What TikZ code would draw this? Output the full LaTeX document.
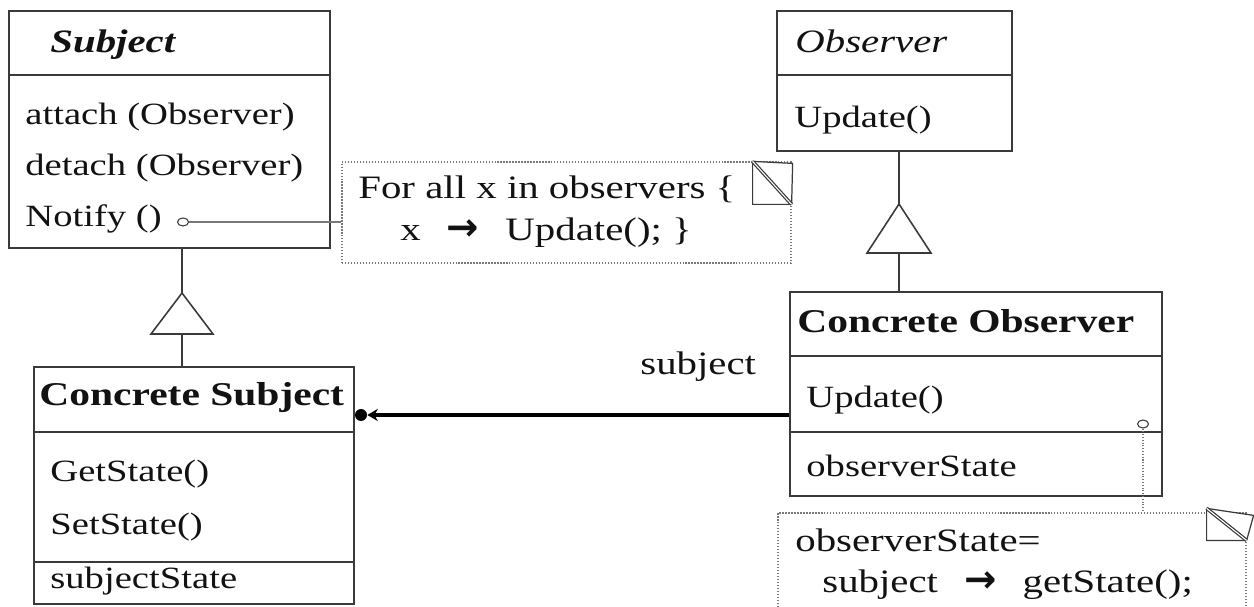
\documentclass[tikz,border=0pt]{standalone}
\usepackage{fontspec}
\setmainfont{Liberation Serif}[FakeStretch=1.25]
\newfontfamily\arrowfont{DejaVu Sans}
\usetikzlibrary{arrows.meta, fit, calc, shapes.geometric}
\definecolor{ink}{RGB}{18,18,18}
\definecolor{rule}{RGB}{58,58,58}
\definecolor{dots}{RGB}{120,120,120}
\newcommand{\pointer}{{\arrowfont\fontsize{22}{22}\selectfont\bfseries →}}

\begin{document}
\begin{tikzpicture}[x=0.02cm, y=-0.02cm,
    cell/.style={draw=rule, line width=0.9pt, inner sep=0pt},
    member/.style={font=\fontsize{17.6}{21}\selectfont, text=ink, anchor=base west, inner sep=0pt},
    memotext/.style={member, font=\fontsize{18.6}{22}\selectfont},
    title/.style={member, font=\fontsize{18.9}{22}\selectfont\bfseries},
    abstract/.style={member, font=\fontsize{18.6}{22}\selectfont\itshape},
    memo/.style={draw=dots, densely dotted, line width=0.7pt, inner sep=0pt},
    fold/.style={draw=rule, fill=white, line width=0.7pt},
    isa/.style={draw=rule, line width=0.9pt},
    assoc/.style={draw=black, line width=2.4pt, -{Stealth[length=6pt, width=7pt]}},
    pin/.style={ellipse, draw=rule, fill=white, line width=0.6pt, minimum width=0.22cm, minimum height=0.16cm, inner sep=0pt},
    knob/.style={circle, fill=black, minimum size=0.24cm, inner sep=0pt},
    link/.style={draw=dots, line width=0.6pt}
  ]
  \useasboundingbox (0,0) rectangle (1254,607);

  % abstract classes
  \node[cell, fit={(9,11) (330,75)}] (subjT) {};
  \node[cell, fit={(9,75) (330,248)}] (subjB) {};
  \node[abstract, font=\fontsize{18.6}{22}\selectfont\bfseries\itshape] (subjN) at (50,53) {Subject};
  \node[member] (attach) at (25,125) {attach (Observer)};
  \node[member] (detach) at (25,176) {detach (Observer)};
  \node[member] (notify) at (25,227) {Notify ()};

  \node[cell, fit={(777,11) (1012,75)}] (obsT) {};
  \node[cell, fit={(777,75) (1012,151)}] (obsB) {};
  \node[abstract] (obsN) at (795,53) {Observer};
  \node[member] (obsU) at (794,128) {Update()};

  % concrete classes
  \node[cell, fit={(34,367) (354,432)}] (csT) {};
  \node[cell, fit={(34,432) (354,562)}] (csM) {};
  \node[cell, fit={(34,562) (354,604)}] (csA) {};
  \node[title] (csN) at (39,406) {Concrete Subject};
  \node[member] (getst) at (50,481) {GetState()};
  \node[member] (setst) at (50,535) {SetState()};
  \node[member] (subst) at (50,588) {subjectState};

  \node[cell, fit={(790,292) (1162,356)}] (coT) {};
  \node[cell, fit={(790,356) (1162,432)}] (coM) {};
  \node[cell, fit={(790,432) (1162,496)}] (coA) {};
  \node[title] (coN) at (797,333) {Concrete Observer};
  \node[member] (coU) at (806,408) {Update()};
  \node[member] (coS) at (806,477) {observerState};

  % generalisation
  \coordinate (tip1) at (182,293);
  \draw[isa] (tip1) -- ++(31,41) -- ++(-62,0) -- cycle;
  \draw[isa] (tip1 |- subjB.south) -- (tip1);
  \draw[isa] ($(tip1)+(0,41)$) -- (tip1 |- csT.north);

  \coordinate (tip2) at (899,204);
  \draw[isa] (tip2) -- ++(32,49) -- ++(-64,0) -- cycle;
  \draw[isa] (tip2 |- obsB.south) -- (tip2);
  \draw[isa] ($(tip2)+(0,49)$) -- (tip2 |- coT.north);

  % association
  \node[knob] (adot) at (361,415) {};
  \draw[assoc] (adot -| coM.west) -- (adot.east);
  \node[memotext] (role) at (640,375) {subject};

  % notes
  \node[memo, fit={(342,162) (791,263)}] (note1) {};
  \node[memotext] (loop) at (358,199) {For all x in observers \{};
  \node[memotext] (call) at (400,241) {x\hspace{0.8em}\pointer\hspace{0.8em}Update(); \}};
  \draw[fold] ($(note1.north east)+(-39,0)$) -- ++(40,2) -- ++(-1,41) -- ++(-39,0) -- cycle;
  \draw[fold, double] ($(note1.north east)+(-39,0)$) -- ++(39,43);
  \node[pin] (npin) at (183,222) {};
  \draw[link] (npin.east) -- (npin.east -| note1.west);

  \node[memo, fit={(778,513) (1246,640)}] (note2) {};
  \node[memotext] (assign) at (795,551) {observerState=};
  \node[memotext] (fetch) at (822,592) {subject\hspace{0.8em}\pointer\hspace{0.8em}getState();};
  \draw[fold] ($(note2.north east)+(-40,-4)$) -- ++(47,7) -- ++(-7,25) -- ++(-40,0) -- cycle;
  \draw[fold, double] ($(note2.north east)+(-40,-4)$) -- ++(40,32);
  \node[pin] (opin) at (1143,424) {};
  \draw[link, densely dotted] (opin.south) -- (opin.south |- note2.north);
\end{tikzpicture}
\end{document}
